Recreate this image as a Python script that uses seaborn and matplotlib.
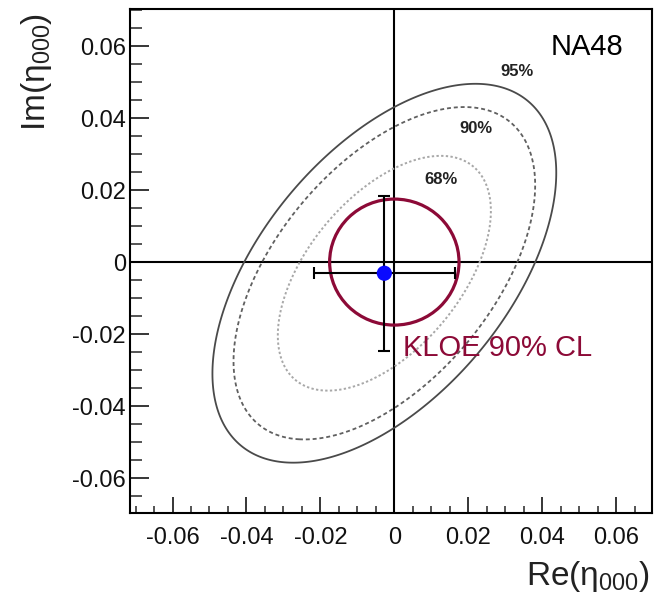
import numpy as np
import pandas as pd
import matplotlib
matplotlib.use("Agg")
import matplotlib.pyplot as plt
from matplotlib.patches import Circle
from matplotlib.ticker import MultipleLocator, FuncFormatter
import seaborn as sns

# NA48 measurement of eta_000 (central value and 1-sigma errors)
re_center = [-0.0027]
im_center = [-0.0031]
re_sigma = 0.019
im_sigma = 0.0215
correlation = 0.53

# Confidence levels and the corresponding chi2 values for 2 d.o.f.
cl_labels = ["68%", "90%", "95%"]
cl_chi2 = [2.30, 4.61, 5.99]
cl_label_re = [0.0125, 0.0222, 0.0333]
cl_label_im = [0.0230, 0.0370, 0.0530]

# KLOE 90% CL limit: circle around the origin
kloe_radius = 0.0175

xticks = [-0.06, -0.04, -0.02, 0, 0.02, 0.04, 0.06]
yticks = [-0.06, -0.04, -0.02, 0, 0.02, 0.04, 0.06]

sns.set_theme(style="white")
plt.rcParams["font.family"] = ["Liberation Sans", "DejaVu Sans"]
plt.rcParams["mathtext.fontset"] = "custom"
plt.rcParams["mathtext.rm"] = "Liberation Sans"
plt.rcParams["mathtext.it"] = "Liberation Sans"

fig = plt.figure(figsize=(6.56, 6.0), dpi=100)
ax = fig.add_axes([130 / 656, 87 / 600, 522 / 656, 504 / 600])
ax.set_xlim(-0.0715, 0.0697)
ax.set_ylim(-0.0697, 0.0703)

# zero lines
ax.axhline(0, color="black", lw=1.5, zorder=2)
ax.axvline(0, color="black", lw=1.5, zorder=2)

# likelihood contours from the 2D Gaussian
gx = np.linspace(-0.0715, 0.0697, 500)
gy = np.linspace(-0.0697, 0.0703, 500)
GX, GY = np.meshgrid(gx, gy)
dx = (GX - re_center[0]) / re_sigma
dy = (GY - im_center[0]) / im_sigma
chi2 = (dx ** 2 - 2 * correlation * dx * dy + dy ** 2) / (1 - correlation ** 2)

styles = {
    "68%": dict(colors="#a8a8a8", linestyles=[(0, (1.2, 1.2))], linewidths=1.4),
    "90%": dict(colors="#606060", linestyles=[(0, (2.2, 1.6))], linewidths=1.3),
    "95%": dict(colors="#4a4a4a", linestyles="solid", linewidths=1.3),
}
for lab, lev in zip(cl_labels, cl_chi2):
    ax.contour(GX, GY, chi2, levels=[lev], zorder=3, **styles[lab])

for lab, x, y in zip(cl_labels, cl_label_re, cl_label_im):
    ax.text(x, y, lab, ha="center", va="center", fontsize=12, fontweight="bold",
            color="#222222", zorder=4)

# KLOE circle
ax.add_patch(Circle((0, 0), kloe_radius, fill=False, ec="#8c0a37", lw=2.3, zorder=5))
ax.text(0.0024, -0.0261, "KLOE 90% CL", color="#8c0a37", fontsize=21,
        ha="left", va="baseline", zorder=6)

# NA48 point with error bars
ax.errorbar(re_center, im_center, xerr=re_sigma, yerr=im_sigma, fmt="none",
            ecolor="black", elinewidth=1.5, capsize=4.5, capthick=1.5, zorder=6)
pts = pd.DataFrame({"re": re_center, "im": im_center})
sns.scatterplot(data=pts, x="re", y="im", color="#0a0aff", s=120,
                edgecolor="none", ax=ax, zorder=7)

ax.text(0.0422, 0.0575, "NA48", fontsize=21, color="black", ha="left", va="baseline")

# ROOT-like axis styling
for sp in ax.spines.values():
    sp.set_color("black")
    sp.set_linewidth(1.5)
ax.set_xticks(xticks)
ax.set_yticks(yticks)
ax.xaxis.set_minor_locator(MultipleLocator(0.005))
ax.yaxis.set_minor_locator(MultipleLocator(0.005))
fmt = FuncFormatter(lambda v, p: "0" if abs(v) < 1e-9 else f"{v:.2f}")
ax.xaxis.set_major_formatter(fmt)
ax.yaxis.set_major_formatter(fmt)
ax.tick_params(axis="x", which="major", direction="in", length=11.5, width=1.1,
               bottom=True, top=False, labelsize=17, pad=10, colors="black",
               labelcolor="#111111")
ax.tick_params(axis="x", which="minor", direction="in", length=5.4, width=1.1,
               bottom=True, top=False)
ax.tick_params(axis="y", which="major", direction="in", length=13.5, width=1.1,
               left=True, right=False, labelsize=17, pad=3, colors="black",
               labelcolor="#111111")
ax.tick_params(axis="y", which="minor", direction="in", length=8.5, width=1.1,
               left=True, right=False)

ax.set_xlabel("Re(η$_{000}$)", fontsize=24, loc="right", color="#222222")
ax.xaxis.set_label_coords(0.995, -0.092)
ax.set_ylabel("Im(η$_{000}$)", fontsize=24, loc="top", color="#222222")
ax.yaxis.set_label_coords(-0.145, 0.993)

fig.savefig("out.png", dpi=100)
